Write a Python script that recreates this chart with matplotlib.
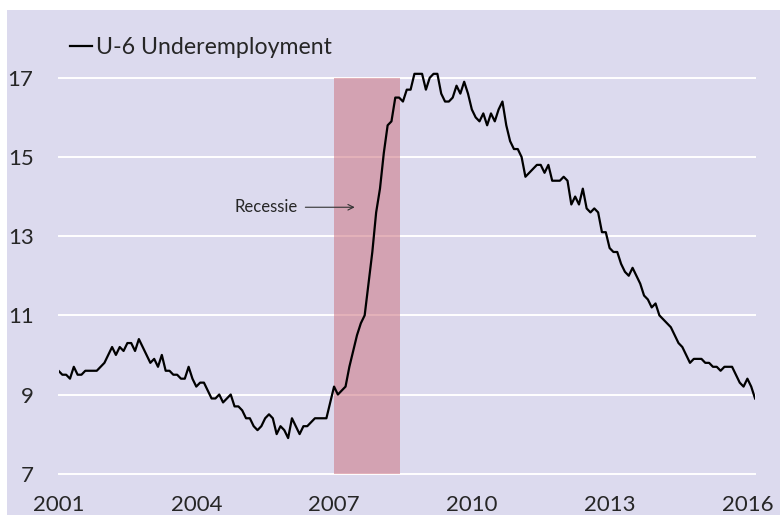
import matplotlib
matplotlib.use("Agg")
import matplotlib.pyplot as plt
import numpy as np
from matplotlib.patches import Rectangle

# U-6 underemployment, monthly values
u6 = [9.6, 9.5, 9.5, 9.4, 9.7, 9.5, 9.5, 9.6, 9.6, 9.6,
      9.6, 9.7, 9.8, 10.0, 10.2, 10.0, 10.2, 10.1, 10.3, 10.3,
      10.1, 10.4, 10.2, 10.0, 9.8, 9.9, 9.7, 10.0, 9.6, 9.6,
      9.5, 9.5, 9.4, 9.4, 9.7, 9.4, 9.2, 9.3, 9.3, 9.1,
      8.9, 8.9, 9.0, 8.8, 8.9, 9.0, 8.7, 8.7, 8.6, 8.4,
      8.4, 8.2, 8.1, 8.2, 8.4, 8.5, 8.4, 8.0, 8.2, 8.1,
      7.9, 8.4, 8.2, 8.0, 8.2, 8.2, 8.3, 8.4, 8.4, 8.4,
      8.4, 8.8, 9.2, 9.0, 9.1, 9.2, 9.7, 10.1, 10.5, 10.8,
      11.0, 11.8, 12.6, 13.6, 14.2, 15.1, 15.8, 15.9, 16.5, 16.5,
      16.4, 16.7, 16.7, 17.1, 17.1, 17.1, 16.7, 17.0, 17.1, 17.1,
      16.6, 16.4, 16.4, 16.5, 16.8, 16.6, 16.9, 16.6, 16.2, 16.0,
      15.9, 16.1, 15.8, 16.1, 15.9, 16.2, 16.4, 15.8, 15.4, 15.2,
      15.2, 15.0, 14.5, 14.6, 14.7, 14.8, 14.8, 14.6, 14.8, 14.4,
      14.4, 14.4, 14.5, 14.4, 13.8, 14.0, 13.8, 14.2, 13.7, 13.6,
      13.7, 13.6, 13.1, 13.1, 12.7, 12.6, 12.6, 12.3, 12.1, 12.0,
      12.2, 12.0, 11.8, 11.5, 11.4, 11.2, 11.3, 11.0, 10.9, 10.8,
      10.7, 10.5, 10.3, 10.2, 10.0, 9.8, 9.9, 9.9, 9.9, 9.8,
      9.8, 9.7, 9.7, 9.6, 9.7, 9.7, 9.7, 9.5, 9.3, 9.2,
      9.4, 9.2, 8.9]

tick_months = [0, 36, 72, 108, 144, 180]
tick_labels = ['2001', '2004', '2007', '2010', '2013', '2016']
y_ticks = [7, 9, 11, 13, 15, 17]

# recession band, in months from Jan 2001
recession_start = 72
recession_end = 89.3
arrow_from = 64.5
arrow_to = 77.4
arrow_level = 13.73

BG = '#dcdaee'
TXT = '#262626'

plt.rcParams['font.family'] = ['Lato', 'DejaVu Sans']

fig = plt.figure(figsize=(7.8, 5.15), dpi=100)
bg = Rectangle((7 / 780, 0), 1, 1 - 10 / 515, transform=fig.transFigure,
               facecolor=BG, edgecolor='none', zorder=-10)
fig.add_artist(bg)

ax = fig.add_axes([0.075, 0.0802, 0.893, 0.881])
ax.set_facecolor('none')
ax.set_zorder(1)

months = np.arange(len(u6))

for y in y_ticks:
    ax.axhline(y, color='white', lw=1.4, zorder=1, clip_on=False)

ax.fill_between([recession_start, recession_end], 7, 17, color='#cd7481', alpha=0.55,
                lw=0, zorder=2)

ax.plot(months, u6, color='black', lw=1.6, zorder=3, label='U-6 Underemployment')

ax.annotate('', xy=(arrow_to, arrow_level), xytext=(arrow_from, arrow_level),
            arrowprops=dict(arrowstyle='->', lw=0.8, color='#333333',
                            shrinkA=0, shrinkB=0))
ax.text(arrow_from - 2, arrow_level, 'Recessie', ha='right', va='center',
        fontsize=12, color=TXT)

ax.set_xlim(0, len(u6) - 1)
ax.set_ylim(7, 18.46)
ax.set_yticks(y_ticks)
ax.set_yticklabels([str(v) for v in y_ticks])
ax.set_xticks(tick_months)
ax.set_xticklabels(tick_labels)
ax.tick_params(axis='both', length=0, labelsize=16, colors=TXT)
ax.tick_params(axis='y', pad=18)
ax.tick_params(axis='x', pad=15)
for s in ax.spines.values():
    s.set_visible(False)

leg = fig.legend(loc='center left', bbox_to_anchor=(70 / 780, 1 - 48 / 515),
                 frameon=False, fontsize=16.7, handlelength=0.95, handletextpad=0.15,
                 borderpad=0, borderaxespad=0)
for t in leg.get_texts():
    t.set_color(TXT)

fig.savefig('out.png', dpi=100, facecolor='white')
